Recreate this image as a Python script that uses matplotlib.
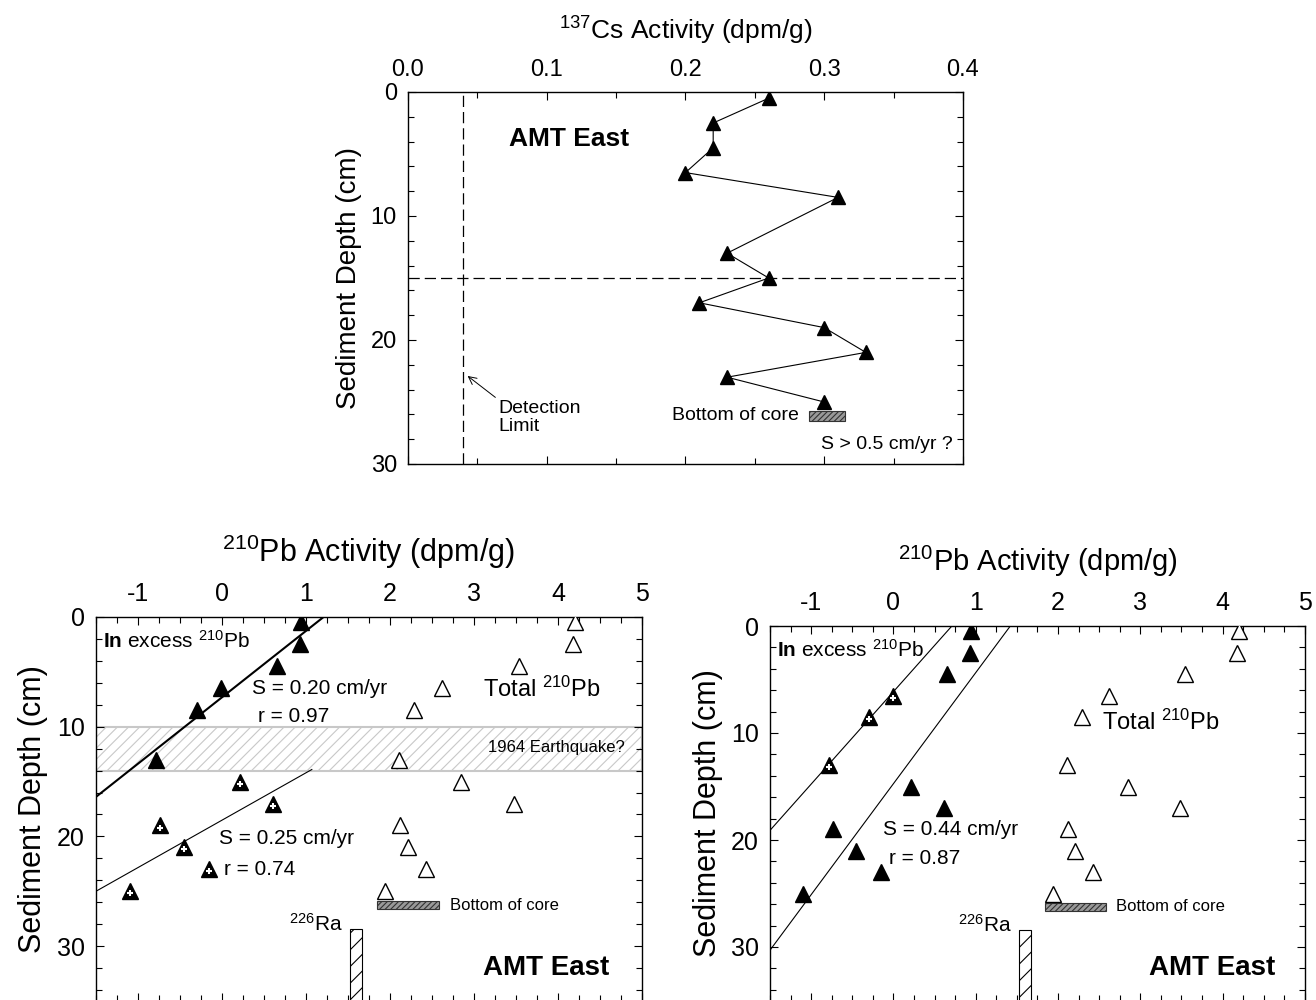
import matplotlib
matplotlib.use("Agg")
import matplotlib.pyplot as plt
from matplotlib.patches import Rectangle
from matplotlib.ticker import MultipleLocator, FormatStrFormatter
from matplotlib.transforms import offset_copy

plt.rcParams["font.family"] = ["Liberation Sans", "DejaVu Sans"]
plt.rcParams["mathtext.fontset"] = "custom"
plt.rcParams["mathtext.rm"] = "Liberation Sans"
plt.rcParams["mathtext.bf"] = "Liberation Sans:bold"
plt.rcParams["mathtext.it"] = "Liberation Sans:italic"
plt.rcParams["axes.unicode_minus"] = False
plt.rcParams["hatch.linewidth"] = 0.8

# --- data ---
depth = [0.5, 2.5, 4.5, 6.5, 8.5, 13, 15, 17, 19, 21, 23, 25]
cs_activity = [0.26, 0.22, 0.22, 0.20, 0.31, 0.23, 0.26, 0.21, 0.30, 0.33, 0.23, 0.30]
pb_total = [4.20, 4.18, 3.54, 2.62, 2.29, 2.11, 2.85, 3.48, 2.12, 2.21, 2.43, 1.94]
pb_excess = [0.94, 0.93, 0.65, -0.01, -0.30, -0.78, 0.21, 0.61, -0.74, -0.45, -0.15, -1.10]

# which excess points are drawn with the white cross (used in the fit)
left_crossed = [False] * 6 + [True] * 6
right_crossed = [False, False, False, True, True, True] + [False] * 6

# regression lines (activity, depth) end points
left_fit1_x, left_fit1_depth = [1.21, -1.5], [0, 16.4]
left_fit2_x, left_fit2_depth = [1.07, -1.5], [13.9, 25.0]
right_fit1_x, right_fit1_depth = [0.71, -1.5], [0, 19.1]
right_fit2_x, right_fit2_depth = [1.42, -1.5], [0, 30.3]

detection_limit = 0.04
cs_peak_depth = 15
quake_band = (10, 14)
ra226 = (1.52, 1.67, 28.4)      # x0, x1, top depth
core_bottom_pb = (1.84, 2.58, 25.9, 26.6)
core_bottom_cs = (0.289, 0.315, 25.7, 26.5)


def style_axes(ax, xmaj, xmin, ymaj, ymin, size):
    ax.xaxis.set_major_locator(MultipleLocator(xmaj))
    ax.xaxis.set_minor_locator(MultipleLocator(xmin))
    ax.yaxis.set_major_locator(MultipleLocator(ymaj))
    ax.yaxis.set_minor_locator(MultipleLocator(ymin))
    ax.tick_params(which="both", direction="in", top=True, bottom=True,
                   left=True, right=True, labeltop=True, labelbottom=False,
                   labelsize=size, width=0.8)
    ax.tick_params(which="major", length=6, pad=8)
    ax.tick_params(which="minor", length=4)
    for s in ax.spines.values():
        s.set_linewidth(1.0)


def draw_excess(ax, crossed):
    for x, d, c in zip(pb_excess, depth, crossed):
        ax.plot(x, d, "^", ms=11, mfc="black", mec="black", zorder=4)
        if c:
            tr = offset_copy(ax.transData, fig=fig, y=-1.5, units="points")
            ax.plot(x, d, "+", ms=5, mew=1.5, color="white", transform=tr, zorder=5)


def pb_common(ax, label_size):
    ax.set_xlim(-1.5, 5)
    ax.set_ylim(35, 0)
    style_axes(ax, 1, 0.25, 10, 2, 18)
    ax.xaxis.set_label_position("top")
    ax.set_xlabel(r"$^{210}$Pb Activity (dpm/g)", fontsize=label_size, labelpad=14)
    ax.set_ylabel("Sediment Depth (cm)", fontsize=22, labelpad=6)
    ax.plot(pb_total, depth, "^", ms=11, mfc="white", mec="black", mew=1.0, zorder=4)
    ax.add_patch(Rectangle((ra226[0], ra226[2]), ra226[1] - ra226[0], 40,
                           facecolor="white", edgecolor="black", hatch="//", lw=0.8))
    ax.text(ra226[0] - 0.08, ra226[2] + 0.6, r"$^{226}$Ra", fontsize=15, ha="right", va="bottom")
    x0, x1, y0, y1 = core_bottom_pb
    ax.add_patch(Rectangle((x0, y0), x1 - x0, y1 - y0, facecolor="#999999",
                           edgecolor="#333333", hatch="//////", lw=0.8))
    ax.text(2.71, 26.25, "Bottom of core", fontsize=12, va="center")
    ax.text(3.11, 32.0, "AMT East", fontsize=20, fontweight="bold", va="center")
    ax.text(-1.42, 2.2, r"$\mathbf{In}$ excess $^{210}$Pb", fontsize=15, va="center")


fig = plt.figure(figsize=(13.16, 10), dpi=100)

# ---- 137Cs panel ----
ax1 = fig.add_axes([0.310, 0.536, 0.4217, 0.372])
ax1.set_xlim(0, 0.4)
ax1.set_ylim(30, 0)
style_axes(ax1, 0.1, 0.05, 10, 2, 17)
ax1.xaxis.set_major_formatter(FormatStrFormatter("%.1f"))
ax1.xaxis.set_label_position("top")
ax1.set_xlabel(r"$^{137}$Cs Activity (dpm/g)", fontsize=19, labelpad=14)
ax1.set_ylabel("Sediment Depth (cm)", fontsize=20, labelpad=6)
ax1.plot(cs_activity, depth, "-", color="black", lw=0.8, marker="^", ms=10, zorder=4)
ax1.axvline(detection_limit, color="black", lw=0.9, dashes=(9, 4))
ax1.axhline(cs_peak_depth, color="black", lw=0.9, dashes=(9, 4))
ax1.annotate("Detection\nLimit", xy=(0.043, 22.9), xytext=(0.065, 24.8),
             fontsize=14, va="top", ha="left", linespacing=1.1,
             arrowprops=dict(arrowstyle="->", lw=0.7, color="black",
                             shrinkA=0, shrinkB=0, relpos=(0, 1)))
ax1.text(0.0725, 3.8, "AMT East", fontsize=19, fontweight="bold", va="center")
x0, x1, y0, y1 = core_bottom_cs
ax1.add_patch(Rectangle((x0, y0), x1 - x0, y1 - y0, facecolor="#999999",
                        edgecolor="#333333", hatch="//////", lw=0.8))
ax1.text(0.282, 26.1, "Bottom of core", fontsize=14, ha="right", va="center")
ax1.text(0.393, 28.4, "S > 0.5 cm/yr ?", fontsize=14, ha="right", va="center")

# ---- 210Pb panel, left ----
ax2 = fig.add_axes([0.0729, -0.001, 0.4149, 0.384])
pb_common(ax2, 22)
ax2.add_patch(Rectangle((-1.5, quake_band[0]), 6.5, quake_band[1] - quake_band[0],
                        facecolor="white", edgecolor="#c8c8c8", hatch="///", lw=1.5, zorder=1))
ax2.text(4.8, 11.9, "1964 Earthquake?", fontsize=12, ha="right", va="center", zorder=2)
draw_excess(ax2, left_crossed)
ax2.plot(left_fit1_x, left_fit1_depth, color="black", lw=1.5, zorder=3)
ax2.plot(left_fit2_x, left_fit2_depth, color="black", lw=0.8, zorder=3)
ax2.text(0.36, 6.5, "S = 0.20 cm/yr", fontsize=15, va="center")
ax2.text(0.43, 9.1, "r = 0.97", fontsize=15, va="center")
ax2.text(3.11, 6.6, r"Total $^{210}$Pb", fontsize=17, va="center")
ax2.text(-0.04, 20.2, "S = 0.25 cm/yr", fontsize=15, va="center")
ax2.text(0.03, 23.0, "r = 0.74", fontsize=15, va="center")

# ---- 210Pb panel, right ----
ax3 = fig.add_axes([0.5851, -0.0005, 0.4065, 0.3745])
pb_common(ax3, 21)
draw_excess(ax3, right_crossed)
ax3.plot(right_fit1_x, right_fit1_depth, color="black", lw=0.8, zorder=3)
ax3.plot(right_fit2_x, right_fit2_depth, color="black", lw=0.8, zorder=3)
ax3.text(2.53, 9.0, r"Total $^{210}$Pb", fontsize=17, va="center")
ax3.text(-0.13, 19.0, "S = 0.44 cm/yr", fontsize=15, va="center")
ax3.text(-0.06, 21.7, "r = 0.87", fontsize=15, va="center")

fig.savefig("out.png", dpi=100)
